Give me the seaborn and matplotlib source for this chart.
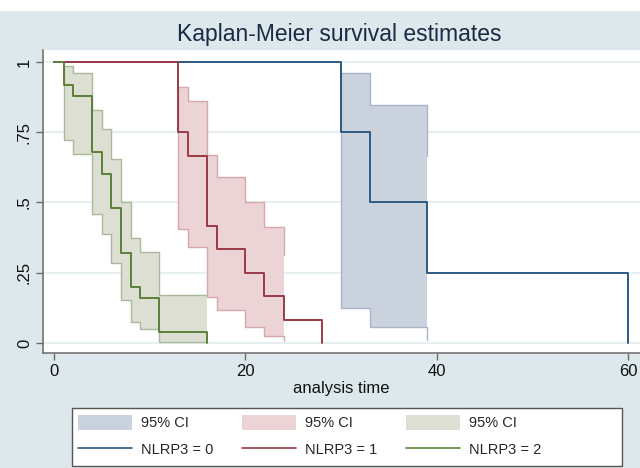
"""
Kaplan-Meier survival estimates by NLRP3 group (Stata-style look)
"""

import matplotlib
matplotlib.use("Agg")
import matplotlib.pyplot as plt
import matplotlib.patches as mpatches
from matplotlib.lines import Line2D
import pandas as pd
import seaborn as sns

# --- KM step data per group ---
t0 = [0, 30, 33, 39, 60]
s0 = [1, 0.75, 0.5, 0.25, 0]
ci0_t = [30, 33, 39]
ci0_hi = [0.961, 0.846, 0.664]
ci0_lo = [0.126, 0.057, 0.009]

t1 = [0, 13, 14, 16, 17, 20, 22, 24, 28]
s1 = [1, 0.75, 0.667, 0.417, 0.333, 0.25, 0.167, 0.083, 0]
ci1_t = [13, 14, 16, 17, 20, 22, 24]
ci1_hi = [0.913, 0.861, 0.668, 0.591, 0.502, 0.413, 0.312]
ci1_lo = [0.407, 0.342, 0.164, 0.116, 0.057, 0.024, 0.005]

t2 = [0, 1, 2, 4, 5, 6, 7, 8, 9, 11, 16]
s2 = [1, 0.92, 0.88, 0.68, 0.60, 0.48, 0.32, 0.20, 0.16, 0.04, 0]
ci2_t = [1, 2, 4, 5, 6, 7, 8, 9, 11, 16]
ci2_hi = [0.985, 0.961, 0.828, 0.763, 0.656, 0.502, 0.372, 0.324, 0.170, 0.170]
ci2_lo = [0.721, 0.674, 0.460, 0.389, 0.283, 0.152, 0.075, 0.048, 0.003, 0.003]

groups = ["NLRP3 = 0", "NLRP3 = 1", "NLRP3 = 2"]
line_colors = ["#2b5a84", "#9a3a47", "#5a8038"]
fill_colors = ["#cad2dd", "#ecd3d6", "#dcdfd1"]
edge_colors = ["#aab6c7", "#d6a7ae", "#acb89d"]

bg = "#dde8ec"

sns.set_theme(style="white")
plt.rcParams["font.family"] = ["Liberation Sans", "DejaVu Sans"]

fig = plt.figure(figsize=(6.4, 4.68), dpi=100, facecolor=bg)
fig.patches.append(mpatches.Rectangle((0, 1 - 10 / 468), 1, 10 / 468,
                                      transform=fig.transFigure, color="white", zorder=0))
ax = fig.add_axes([43 / 640, 1 - 353 / 468, 597 / 640, 303 / 468])
ax.set_facecolor("white")

# gridlines (Stata-ish light bluish gray)
for yv in [0, 0.25, 0.5, 0.75, 1]:
    ax.axhline(yv, color="#e4ecee", lw=1.2, zorder=0)

cis = [(ci0_t, ci0_lo, ci0_hi), (ci1_t, ci1_lo, ci1_hi), (ci2_t, ci2_lo, ci2_hi)]
for (ct, lo, hi), fc, ec in zip(cis, fill_colors, edge_colors):
    ax.fill_between(ct, lo, hi, step="post", color=fc, lw=0, zorder=1)
    ax.step(ct, hi, where="post", color=ec, lw=1.0, zorder=2)
    ax.step(ct, lo, where="post", color=ec, lw=1.0, zorder=2)
    ax.vlines(ct[0], lo[0], hi[0], color=ec, lw=1.0, zorder=2)

km = pd.concat([
    pd.DataFrame({"time": t, "surv": s, "group": g})
    for t, s, g in [(t0, s0, groups[0]), (t1, s1, groups[1]), (t2, s2, groups[2])]
])
for g, c in zip(groups, line_colors):
    d = km[km["group"] == g]
    sns.lineplot(data=d, x="time", y="surv", drawstyle="steps-post", estimator=None,
                 color=c, lw=1.4, ax=ax, zorder=3, legend=False)

ax.set_xlim(-1.15, 61.25)
ax.set_ylim(-0.036, 1.043)
ax.set_xticks([0, 20, 40, 60])
ax.set_yticks([0, 0.25, 0.5, 0.75, 1])
ax.set_yticklabels(["0", ".25", ".5", ".75", "1"], rotation=90, va="center")
ax.tick_params(axis="both", direction="out", length=5, width=1, color="#6a6a6a",
               labelsize=12, labelcolor="#111111", pad=3, left=True, bottom=True)
ax.set_xlabel("analysis time", fontsize=12, color="#111111", labelpad=1)
ax.set_ylabel("")

for side in ["top", "right"]:
    ax.spines[side].set_visible(False)
for side in ["left", "bottom"]:
    ax.spines[side].set_color("#6a6a6a")
    ax.spines[side].set_linewidth(1.1)

fig.text(339 / 640, 1 - 35 / 468, "Kaplan-Meier survival estimates",
         ha="center", va="center", fontsize=16.5, color="#1b2a44")

# legend frame drawn by hand (Stata leaves spare room on the right)
fig.patches.append(mpatches.Rectangle((72 / 640, 1 - 466 / 468), 550 / 640, 58 / 468,
                                      transform=fig.transFigure, facecolor="white",
                                      edgecolor="#555555", lw=1.0, zorder=1))

handles = []
labels = []
for g, lc, fc in zip(groups, line_colors, fill_colors):
    handles.append(mpatches.Patch(facecolor=fc, edgecolor="none"))
    labels.append("95% CI")
    handles.append(Line2D([0], [0], color=lc, lw=1.2))
    labels.append(g)

leg = fig.legend(handles, labels, ncol=3, loc="upper left",
                 bbox_to_anchor=(78 / 640, 1 - 415 / 468),
                 fontsize=10.5, frameon=False, borderpad=0, borderaxespad=0,
                 handlelength=3.7, handleheight=1.2, handletextpad=0.6,
                 columnspacing=2.0, labelspacing=0.75)
leg.set_zorder(2)

fig.savefig("out.png", dpi=100, facecolor=bg)
